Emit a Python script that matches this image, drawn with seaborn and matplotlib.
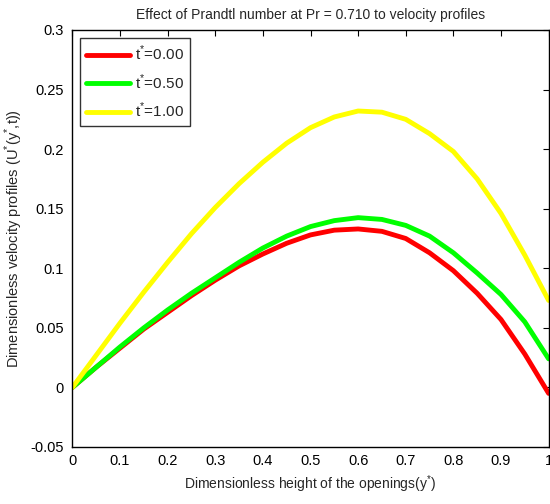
import numpy as np
import pandas as pd
import matplotlib
matplotlib.use("Agg")
import matplotlib.pyplot as plt
import seaborn as sns
from matplotlib.lines import Line2D

x_vals = [0.0, 0.05, 0.1, 0.15, 0.2, 0.25, 0.3, 0.35, 0.4, 0.45, 0.5,
          0.55, 0.6, 0.65, 0.7, 0.75, 0.8, 0.85, 0.9, 0.95, 1.0]
u_t000 = [0.0, 0.017, 0.033, 0.049, 0.063, 0.077, 0.090, 0.102, 0.112, 0.121, 0.128,
          0.132, 0.133, 0.131, 0.125, 0.113, 0.098, 0.079, 0.057, 0.028, -0.005]
u_t050 = [0.0, 0.017, 0.034, 0.050, 0.065, 0.079, 0.092, 0.105, 0.117, 0.127, 0.135,
          0.140, 0.1425, 0.141, 0.136, 0.127, 0.113, 0.096, 0.078, 0.055, 0.024]
u_t100 = [0.0, 0.027, 0.054, 0.080, 0.105, 0.129, 0.151, 0.171, 0.189, 0.205, 0.218,
          0.227, 0.232, 0.231, 0.225, 0.213, 0.198, 0.175, 0.146, 0.111, 0.073]
labels = ["t$^{*}$=0.00", "t$^{*}$=0.50", "t$^{*}$=1.00"]
colors = ["#ff0000", "#00ff00", "#ffff00"]

df = pd.concat([
    pd.DataFrame({"x": x_vals, "u": u, "series": lab})
    for u, lab in zip([u_t000, u_t050, u_t100], labels)
])

sns.set_style("white")
plt.rcParams["font.family"] = ["Liberation Sans", "DejaVu Sans"]
plt.rcParams["mathtext.fontset"] = "custom"
plt.rcParams["mathtext.rm"] = "Liberation Sans"

fig = plt.figure(figsize=(5.5, 5.04), dpi=100)
ax = fig.add_axes([0.1316, 0.1131, 0.8659, 0.8274])
sns.lineplot(data=df, x="x", y="u", hue="series", palette=colors,
             linewidth=3.5, ax=ax, legend=False)

ax.set_xlim(0, 1)
ax.set_ylim(-0.05, 0.3)
ax.set_xticks(np.arange(0, 1.01, 0.1))
ax.set_xticklabels(["0", "0.1", "0.2", "0.3", "0.4", "0.5", "0.6", "0.7", "0.8", "0.9", "1"])
ax.set_yticks(np.arange(-0.05, 0.301, 0.05))
ax.set_yticklabels(["-0.05", "0", "0.05", "0.1", "0.15", "0.2", "0.25", "0.3"])
ax.tick_params(direction="in", length=4, width=0.8, top=True, right=True,
               labelsize=10.5, colors="black")
ax.tick_params(axis="x", pad=5)
ax.tick_params(axis="y", pad=6)
for s in ax.spines.values():
    s.set_visible(True)
    s.set_color("black")
    s.set_linewidth(1.0)

ax.set_xlabel("Dimensionless height of the openings(y$^{*}$)", fontsize=10, labelpad=4)
ax.set_ylabel("Dimensionless velocity profiles (U$^{*}$(y$^{*}$,t))", fontsize=10.5, labelpad=4)
ax.set_title("Effect of Prandtl number at Pr = 0.710 to velocity profiles", fontsize=10, pad=8)

handles = [Line2D([0], [0], color=c, lw=3.5) for c in colors]
leg = ax.legend(handles, labels, loc="upper left", fontsize=11, frameon=True,
                fancybox=False, edgecolor="black", handlelength=2.9,
                borderaxespad=0.5, borderpad=0.4, labelspacing=0.6,
                handletextpad=0.3)
leg.get_frame().set_linewidth(1.0)

fig.savefig("out.png", dpi=100)
